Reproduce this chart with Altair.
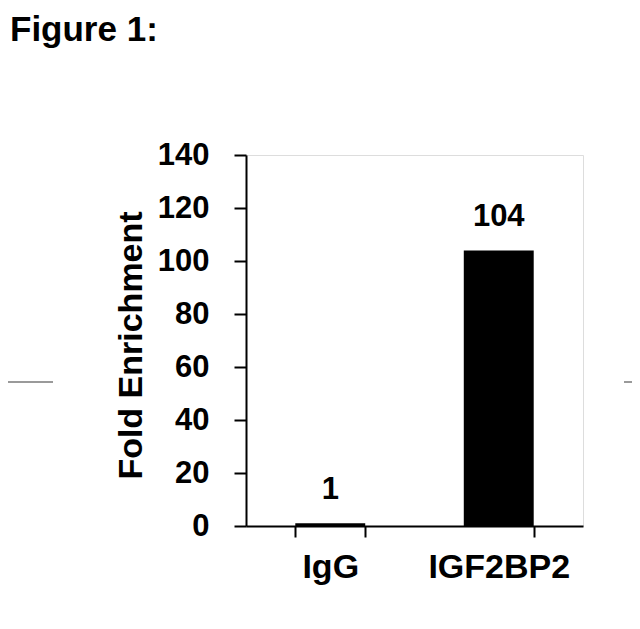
import altair as alt
import pandas as pd

categories = ["IgG", "IGF2BP2"]
values = [1, 104]
labels = ["1", "104"]

df = pd.DataFrame({"cat": categories, "val": values, "lbl": labels})

FONT = "Liberation Sans"

x_enc = alt.X(
    "cat:N",
    sort=categories,
    title=None,
    scale=alt.Scale(paddingInner=0.585, paddingOuter=0.2925),
    axis=alt.Axis(
        labelAngle=0,
        labelFont=FONT,
        labelFontSize=34,
        labelFontWeight="bold",
        labelColor="black",
        labelBaseline="alphabetic",
        labelPadding=40,
        tickBand="extent",
        tickSize=11,
        tickWidth=2,
        tickColor="black",
        domainColor="black",
        domainWidth=2,
        grid=False,
    ),
)

y_enc = alt.Y(
    "val:Q",
    title="Fold Enrichment",
    scale=alt.Scale(domain=[0, 140], nice=False),
    axis=alt.Axis(
        values=[0, 20, 40, 60, 80, 100, 120, 140],
        labelFont=FONT,
        labelFontSize=31,
        labelFontWeight="bold",
        labelColor="black",
        labelPadding=25,
        tickSize=12,
        tickWidth=2,
        tickColor="black",
        domainColor="black",
        domainWidth=2,
        grid=False,
        titleFont=FONT,
        titleFontSize=34,
        titleFontWeight="bold",
        titleColor="black",
        titleBaseline="alphabetic",
        titleX=-105,
        titleY=190,
        titleAngle=-90,
    ),
)

bars = alt.Chart(df).mark_bar(color="black").encode(x=x_enc, y=y_enc)

text = alt.Chart(df).mark_text(
    font=FONT, fontSize=31, fontWeight="bold", color="black",
    baseline="alphabetic", dy=-24,
).encode(x=alt.X("cat:N", sort=categories), y="val:Q", text="lbl:N")

# decorative page separator lines at the sides
sep_left = alt.Chart(df).mark_rule(color="#9a9a9a", strokeWidth=2).encode(
    x=alt.value(-238), x2=alt.value(-193), y=alt.value(227)
)
sep_right = alt.Chart(df).mark_rule(color="#9a9a9a", strokeWidth=2).encode(
    x=alt.value(378), x2=alt.value(390), y=alt.value(227)
)

chart = (
    alt.layer(bars, text, sep_left, sep_right)
    .properties(
        width=337,
        height=371,
        autosize=alt.AutoSizeParams(type="none"),
        padding={"left": 238, "top": 147, "right": 49, "bottom": 80},
        title=alt.TitleParams(
            "Figure 1:",
            font=FONT,
            fontSize=35,
            fontWeight="bold",
            color="black",
            anchor="start",
            frame="group",
            dx=-236,
            baseline="alphabetic",
            offset=63,
        ),
    )
    .configure_view(stroke="#8a8a8a", strokeWidth=2)
    .configure(background="white")
)

chart.save("out.html", embed_options={"renderer": "svg", "actions": False})
